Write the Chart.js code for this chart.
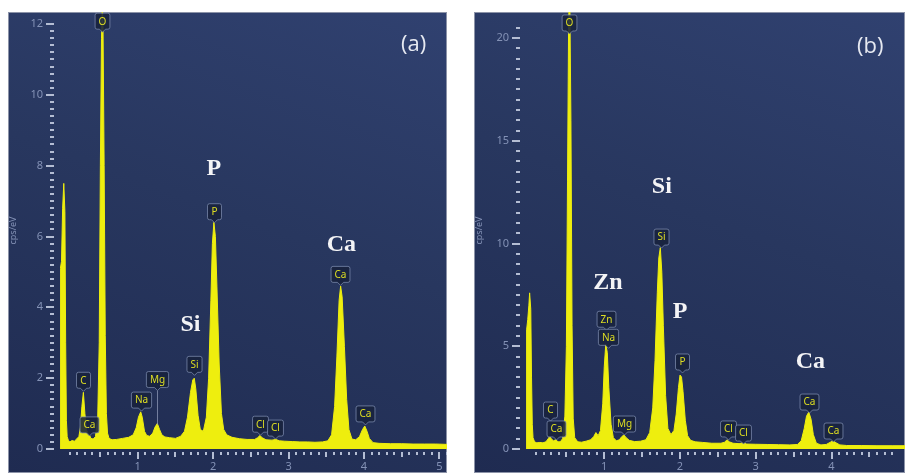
<!DOCTYPE html>
<html>
<head>
<meta charset="utf-8">
<script src="https://cdn.jsdelivr.net/npm/chart.js@4.4.1/dist/chart.umd.min.js"></script>
<style>
  html, body { margin: 0; padding: 0; background: #fff; width: 905px; height: 473px; overflow: hidden; }
  .panel {
    position: absolute; top: 12px; height: 461px;
    background: linear-gradient(200deg, #304170 0%, #28375f 45%, #1f2b51 100%);
    box-shadow: inset 0 0 0 1px #8c93a8;
  }
  #pa { left: 8px; width: 439px; }
  #pb { left: 474px; width: 431px; }
  .tag { position: absolute; font: 22px "Open Sans", sans-serif; color: #e6e9f1; line-height: 24px; z-index: 2; }
</style>
</head>
<body>
<div class="panel" id="pa"><canvas id="chartA"></canvas></div>
<div class="panel" id="pb"><canvas id="chartB"></canvas></div>
<div class="tag" style="left:401px; top:30px;">(a)</div>
<div class="tag" style="left:857px; top:32px;">(b)</div>
<script>
// ---------- Data: spectrum (a) ----------
const energyA = [
  -0.03, -0.025, -0.01, 0.005, 0.02, 0.035, 0.045, 0.055, 0.065, 0.08,
  0.10, 0.13, 0.16, 0.19, 0.22, 0.24, 0.26, 0.28, 0.30, 0.32,
  0.34, 0.36, 0.38, 0.41, 0.44, 0.47, 0.49, 0.505, 0.52, 0.53,
  0.54, 0.555, 0.57, 0.585, 0.60, 0.62, 0.66, 0.72, 0.80, 0.88,
  0.94, 0.98, 1.01, 1.04, 1.06, 1.09, 1.12, 1.16, 1.20, 1.23,
  1.26, 1.29, 1.32, 1.36, 1.42, 1.50, 1.57, 1.62, 1.66, 1.70,
  1.73, 1.75, 1.77, 1.80, 1.83, 1.87, 1.91, 1.94, 1.97, 1.99,
  2.01, 2.03, 2.05, 2.08, 2.11, 2.14, 2.18, 2.25, 2.35, 2.45,
  2.55, 2.59, 2.62, 2.65, 2.70, 2.78, 2.83, 2.88, 2.95, 3.05,
  3.15, 3.25, 3.35, 3.45, 3.52, 3.57, 3.61, 3.64, 3.67, 3.69,
  3.71, 3.74, 3.77, 3.80, 3.84, 3.89, 3.94, 3.98, 4.01, 4.04,
  4.07, 4.12, 4.2, 4.35, 4.5, 4.65, 4.8, 4.95, 5.1
];
const countsA = [
  0, 5.1, 5.3, 6.8, 7.5, 6.7, 3.0, 0.8, 0.35, 0.25,
  0.2, 0.24, 0.22, 0.28, 0.35, 0.6, 1.2, 1.6, 1.0, 0.55,
  0.45, 0.4, 0.3, 0.28, 0.35, 0.9, 3.0, 8.0, 11.6, 12.6,
  12.0, 8.0, 3.2, 1.0, 0.45, 0.3, 0.26, 0.27, 0.3, 0.33,
  0.4, 0.6, 0.9, 1.05, 0.9, 0.5, 0.38, 0.36, 0.45, 0.62,
  0.72, 0.55, 0.4, 0.34, 0.32, 0.3, 0.36, 0.5, 0.9, 1.6,
  1.95, 2.0, 1.7, 0.95, 0.55, 0.5, 0.9, 2.0, 4.2, 5.8,
  6.4, 6.0, 4.6, 2.4, 1.0, 0.55, 0.4, 0.33, 0.29, 0.27,
  0.27, 0.32, 0.38, 0.32, 0.26, 0.25, 0.27, 0.23, 0.22, 0.21,
  0.2, 0.2, 0.19, 0.2, 0.23, 0.4, 1.2, 2.6, 4.2, 4.6,
  4.3, 2.9, 1.4, 0.55, 0.28, 0.26, 0.35, 0.55, 0.65, 0.5,
  0.3, 0.18, 0.16, 0.15, 0.15, 0.14, 0.14, 0.14, 0.13
];
const tagNamesA  = ['O', 'C', 'Ca', 'Na', 'Mg', 'Si', 'P', 'Cl', 'Cl', 'Ca', 'Ca'];
const tagEnergyA = [0.53, 0.28, 0.35, 1.04, 1.26, 1.75, 2.01, 2.62, 2.82, 3.68, 4.01];
const tagTipA    = [11.77, 1.63, 0.37, 1.07, 0.68, 2.08, 6.39, 0.39, 0.28, 4.62, 0.68];
const tagBoxA    = [11.77, 1.63, 0.37, 1.07, 1.65, 2.08, 6.39, 0.39, 0.28, 4.62, 0.68];
const bigNamesA  = ['P', 'Si', 'Ca'];
const bigEnergyA = [2.01, 1.70, 3.70];
const bigValueA  = [7.9, 3.5, 5.77];

// ---------- Data: spectrum (b) ----------
const energyB = [
  -0.033, -0.025, -0.01, 0.005, 0.015, 0.03, 0.04, 0.05, 0.06, 0.08,
  0.11, 0.15, 0.19, 0.23, 0.26, 0.28, 0.30, 0.33, 0.36, 0.39,
  0.42, 0.45, 0.48, 0.50, 0.515, 0.53, 0.545, 0.56, 0.575, 0.59,
  0.61, 0.65, 0.70, 0.76, 0.82, 0.86, 0.89, 0.92, 0.95, 0.98,
  1.00, 1.02, 1.04, 1.06, 1.09, 1.12, 1.16, 1.20, 1.23, 1.26,
  1.29, 1.33, 1.40, 1.48, 1.55, 1.60, 1.64, 1.67, 1.70, 1.72,
  1.74, 1.76, 1.78, 1.81, 1.84, 1.88, 1.92, 1.95, 1.98, 2.00,
  2.02, 2.04, 2.07, 2.10, 2.14, 2.20, 2.30, 2.42, 2.54, 2.59,
  2.62, 2.65, 2.70, 2.78, 2.83, 2.88, 3.00, 3.15, 3.30, 3.45,
  3.55, 3.60, 3.64, 3.67, 3.70, 3.73, 3.76, 3.80, 3.86, 3.93,
  3.98, 4.02, 4.06, 4.11, 4.2, 4.4, 4.6, 4.8, 4.97
];
const countsB = [
  0, 5.8, 6.3, 7.0, 7.6, 6.8, 3.5, 1.2, 0.55, 0.35,
  0.3, 0.32, 0.3, 0.35, 0.5, 0.62, 0.5, 0.4, 0.45, 0.35,
  0.35, 0.5, 1.6, 5.0, 13.0, 21.0, 22.0, 16.0, 6.0, 1.5,
  0.55, 0.35, 0.33, 0.38, 0.45, 0.6, 0.8, 0.65, 0.9, 2.2,
  4.0, 5.1, 4.7, 3.0, 1.2, 0.55, 0.4, 0.45, 0.6, 0.68,
  0.55, 0.42, 0.36, 0.38, 0.45, 0.8, 2.0, 4.3, 7.6, 9.3,
  9.8, 8.6, 6.0, 2.6, 1.0, 0.7, 0.9, 1.7, 3.0, 3.6,
  3.5, 2.8, 1.4, 0.65, 0.42, 0.35, 0.32, 0.28, 0.28, 0.33,
  0.45, 0.35, 0.28, 0.26, 0.3, 0.24, 0.23, 0.22, 0.21, 0.2,
  0.22, 0.4, 1.0, 1.6, 1.8, 1.45, 0.7, 0.28, 0.2, 0.22,
  0.32, 0.4, 0.3, 0.2, 0.17, 0.17, 0.16, 0.16, 0.16
];
const tagNamesB  = ['O', 'C', 'Ca', 'Zn', 'Na', 'Mg', 'Si', 'P', 'Cl', 'Cl', 'Ca', 'Ca'];
const tagEnergyB = [0.54, 0.29, 0.36, 1.02, 1.05, 1.26, 1.75, 2.03, 2.63, 2.83, 3.70, 4.02];
const tagTipB    = [20.2, 1.36, 0.44, 5.78, 4.9, 0.68, 9.78, 3.7, 0.44, 0.24, 1.75, 0.34];
const tagBoxB    = [20.2, 1.36, 0.44, 5.78, 4.9, 0.68, 9.78, 3.7, 0.44, 0.24, 1.75, 0.34];
const bigNamesB  = ['Si', 'Zn', 'P', 'Ca'];
const bigEnergyB = [1.76, 1.05, 2.0, 3.72];
const bigValueB  = [12.75, 8.08, 6.67, 4.23];

// ---------- Style ----------
const YELLOW = '#eeee0e';
const LABEL_COLOR = '#8492b6';
const TICK_COLOR = '#b4bdd3';
Chart.defaults.font.family = '"Noto Sans", sans-serif';

function isMult(v, step) {
  const r = v / step;
  return Math.abs(r - Math.round(r)) < 1e-6;
}

// ---------- Plugins ----------
// tick dashes drawn from the scales' own ticks
const tickMarks = {
  id: 'tickMarks',
  afterDraw(chart, args, opts) {
    const { ctx, chartArea: a, scales: { x, y } } = chart;
    ctx.save();
    ctx.strokeStyle = TICK_COLOR;
    ctx.lineWidth = 2;
    y.ticks.forEach(t => {
      if (!isMult(t.value, opts.yMinor)) return;
      const py = Math.round(y.getPixelForValue(t.value));
      const len = isMult(t.value, opts.yMajor) ? 8 : 4;
      ctx.beginPath();
      ctx.moveTo(a.left - 6 - len, py);
      ctx.lineTo(a.left - 6, py);
      ctx.stroke();
    });
    x.ticks.forEach(t => {
      if (!isMult(t.value, 0.1)) return;
      const px = Math.round(x.getPixelForValue(t.value));
      const len = isMult(t.value, 1) ? 7 : (isMult(t.value, 0.5) ? 5 : 3);
      ctx.beginPath();
      ctx.moveTo(px, a.bottom + 3);
      ctx.lineTo(px, a.bottom + 3 + len);
      ctx.stroke();
    });
    ctx.restore();
  }
};

// element tags (dark box with pointer)
const peakTags = {
  id: 'peakTags',
  afterDatasetsDraw(chart, args, opts) {
    const { ctx, scales: { x, y } } = chart;
    ctx.save();
    ctx.font = '10px "Noto Sans"';
    ctx.textAlign = 'center';
    ctx.textBaseline = 'middle';
    opts.names.forEach((name, i) => {
      const px = Math.round(x.getPixelForValue(opts.energy[i])) + 0.5;
      const tip = y.getPixelForValue(opts.tip[i]);
      const anchor = y.getPixelForValue(opts.box[i]);
      const w = Math.max(14, ctx.measureText(name).width + 7);
      const h = 16, r = 2;
      const bx = px - w / 2, by = anchor - 3 - h;
      if (tip - anchor > 1) {
        ctx.strokeStyle = 'rgba(150,160,190,0.7)';
        ctx.lineWidth = 1;
        ctx.beginPath();
        ctx.moveTo(px, anchor);
        ctx.lineTo(px, tip);
        ctx.stroke();
      }
      ctx.beginPath();
      ctx.moveTo(bx + r, by);
      ctx.lineTo(bx + w - r, by);
      ctx.arcTo(bx + w, by, bx + w, by + r, r);
      ctx.lineTo(bx + w, by + h - r);
      ctx.arcTo(bx + w, by + h, bx + w - r, by + h, r);
      ctx.lineTo(px + 3, by + h);
      ctx.lineTo(px, by + h + 3);
      ctx.lineTo(px - 3, by + h);
      ctx.lineTo(bx + r, by + h);
      ctx.arcTo(bx, by + h, bx, by + h - r, r);
      ctx.lineTo(bx, by + r);
      ctx.arcTo(bx, by, bx + r, by, r);
      ctx.closePath();
      ctx.fillStyle = 'rgba(24,34,62,0.88)';
      ctx.fill();
      ctx.strokeStyle = 'rgba(125,140,175,0.75)';
      ctx.lineWidth = 1;
      ctx.stroke();
      ctx.fillStyle = '#dede22';
      ctx.fillText(name, px, by + h / 2 + 0.5);
    });
    ctx.restore();
  }
};

// big white element names
const bigLabels = {
  id: 'bigLabels',
  afterDatasetsDraw(chart, args, opts) {
    const { ctx, scales: { x, y } } = chart;
    ctx.save();
    ctx.font = 'bold 24px "Liberation Serif"';
    ctx.fillStyle = '#f4f4f6';
    ctx.textAlign = 'center';
    ctx.textBaseline = 'middle';
    opts.names.forEach((name, i) => {
      ctx.fillText(name, x.getPixelForValue(opts.energy[i]), y.getPixelForValue(opts.value[i]));
    });
    ctx.restore();
  }
};

// ---------- Chart ----------
function makeChart(id, cfg) {
  return new Chart(document.getElementById(id), {
    type: 'line',
    data: {
      datasets: [{
        data: cfg.energy.map((e, i) => ({ x: e, y: cfg.counts[i] })),
        borderColor: YELLOW,
        backgroundColor: YELLOW,
        borderWidth: 1,
        pointRadius: 0,
        fill: 'origin',
        tension: 0
      }]
    },
    options: {
      animation: false,
      responsive: true,
      maintainAspectRatio: false,
      layout: { padding: 0 },
      plugins: {
        legend: { display: false },
        tooltip: { enabled: false },
        tickMarks: { yMinor: cfg.yMinor, yMajor: cfg.yMajor },
        peakTags: cfg.tags,
        bigLabels: cfg.big
      },
      scales: {
        x: {
          type: 'linear', min: cfg.xMin, max: cfg.xMax,
          grid: { display: false, drawTicks: false, tickLength: 0 },
          border: { display: false },
          ticks: {
            stepSize: 0.1, autoSkip: false, maxRotation: 0, maxTicksLimit: 1000,
            padding: 11, color: LABEL_COLOR, font: { size: 11 },
            callback: v => isMult(v, 1) ? String(Math.round(v)) : ''
          },
          afterFit: s => { s.height = 24; s.paddingLeft = 0; s.paddingRight = 0; }
        },
        y: {
          type: 'linear', min: 0, max: cfg.yMax,
          grid: { display: false, drawTicks: false, tickLength: 0 },
          border: { display: false },
          title: { display: true, text: 'cps/eV', color: LABEL_COLOR, font: { size: 9 }, padding: 0 },
          ticks: {
            stepSize: cfg.yMinor, autoSkip: false, maxTicksLimit: 1000,
            padding: 17, color: LABEL_COLOR, font: { size: 11 },
            callback: v => isMult(v, cfg.yMajor) ? String(Math.round(v)) : ''
          },
          afterFit: s => { s.width = 52; s.paddingTop = 0; s.paddingBottom = 0; }
        }
      }
    },
    plugins: [tickMarks, peakTags, bigLabels]
  });
}

makeChart('chartA', {
  energy: energyA, counts: countsA,
  xMin: -0.03, xMax: 5.1, yMax: 12.34, yMinor: 0.2, yMajor: 2,
  tags: { names: tagNamesA, energy: tagEnergyA, tip: tagTipA, box: tagBoxA },
  big: { names: bigNamesA, energy: bigEnergyA, value: bigValueA }
});

makeChart('chartB', {
  energy: energyB, counts: countsB,
  xMin: -0.033, xMax: 4.97, yMax: 21.27, yMinor: 0.5, yMajor: 5,
  tags: { names: tagNamesB, energy: tagEnergyB, tip: tagTipB, box: tagBoxB },
  big: { names: bigNamesB, energy: bigEnergyB, value: bigValueB }
});
</script>
</body>
</html>
